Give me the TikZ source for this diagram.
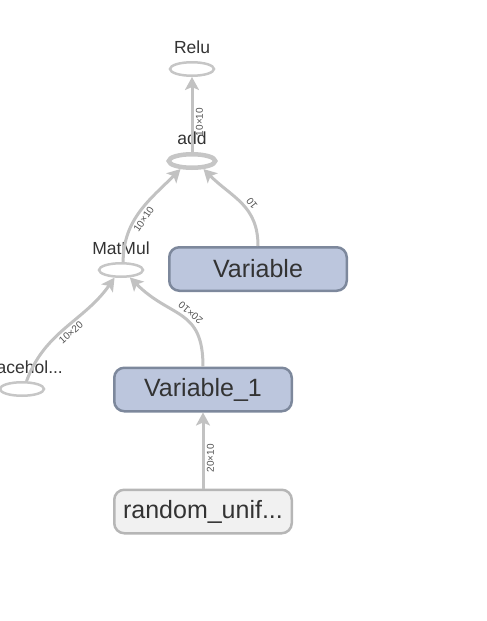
\documentclass[tikz,border=0pt]{standalone}
\usepackage{fontspec}
\setmainfont{Liberation Sans}
\usetikzlibrary{positioning, arrows.meta, shapes.geometric}

\definecolor{edgegray}{HTML}{C2C2C2}
\definecolor{opgray}{HTML}{C6C6C6}
\definecolor{varfill}{HTML}{BCC6DD}
\definecolor{varline}{HTML}{7D889C}
\definecolor{cstfill}{HTML}{F1F1F1}
\definecolor{cstline}{HTML}{B6B6B6}
\definecolor{txtgray}{HTML}{333333}

\begin{document}
\begin{tikzpicture}[
    x=1pt, y=-1pt,
    op/.style={draw=opgray, ellipse, line width=2.5pt, inner sep=0pt,
               minimum width=44pt, minimum height=13.5pt},
    addop/.style={line width=4.5pt, minimum width=46.5pt},
    oplbl/.style={font=\fontsize{17.5}{19}\selectfont, text=txtgray,
                  inner sep=0pt},
    varbox/.style={draw=varline, fill=varfill, rounded corners=10pt,
                   line width=2.5pt, minimum width=177.5pt,
                   minimum height=43.5pt, text=txtgray,
                   font=\fontsize{25}{29}\selectfont},
    cstbox/.style={varbox, draw=cstline, fill=cstfill},
    edge/.style={draw=edgegray, line width=3pt,
                 -{Stealth[length=13pt, width=14pt, inset=3pt]}},
    elbl/.style={font=\fontsize{10}{11}\selectfont, text=txtgray!85,
                 sloped, inner sep=2.5pt},
]
\clip (0,0) rectangle (487,621);

% --- Ops ---
\node[op] (relu) at (192,69) {};
\node[oplbl, above=7pt] (relulbl) at (relu.north) {Relu};
\node[op, addop] (add) at (192,161) {};
\node[oplbl, above=7pt] (addlbl) at (add.north) {add};
\node[op] (mm) at (121,270) {};
\node[oplbl, above=7pt] (mmlbl) at (mm.north) {MatMul};
\node[op] (ph) at (22,389) {};
\node[oplbl, above=7pt] (phlbl) at (ph.north) {Placehol...};

% --- Variables ---
\node[varbox] (var) at (258,269) {Variable};
\node[varbox] (var1) at (203,389.5) {Variable\_1};
\node[cstbox] (rnd) at (203,511.5) {random\_unif...};

% --- Edges ---
\draw[edge] (add.north) -- node[elbl, pos=.4, below] {10×10} (relu.south);
\draw[edge] (mm.75) to[out=90, in=-135]
    node[elbl, pos=.45, below] {10×10} (add.-145);
\draw[edge] (var.north) to[out=90, in=-45, looseness=1.1]
    node[elbl, pos=.42, below, allow upside down] {10} (add.-35);
\draw[edge] (ph.60) to[out=70, in=-125]
    node[elbl, pos=.5, below] {10×20} (mm.-130);
\draw[edge] (var1.north) to[out=90, in=-45, looseness=1.3]
    node[elbl, pos=.45, below, allow upside down] {20×10} (mm.-40);
\draw[edge] (rnd.north) -- node[elbl, pos=.4, below] {20×10} (var1.south);
\end{tikzpicture}
\end{document}
